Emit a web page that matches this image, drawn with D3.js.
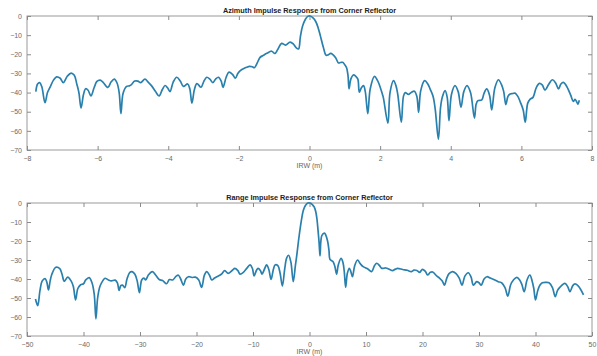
<!DOCTYPE html>
<html>
<head>
<meta charset="utf-8">
<script src="https://cdn.jsdelivr.net/npm/d3@7"></script>
<style>
  body { margin: 0; background: #fff; }
  svg text { font-family: "Liberation Sans", Arial, sans-serif; }
</style>
</head>
<body>
<svg id="chart" width="597" height="356"></svg>
<script>
// azimuth cut (m, dB)
const azX = [-7.75,-7.70,-7.64,-7.58,-7.49,-7.42,-7.35,-7.25,-7.16,-7.06,-6.97,-6.86,-6.75,-6.66,-6.59,-6.53,-6.47,-6.40,-6.34,-6.27,-6.19,-6.10,-6.02,-5.93,-5.85,-5.71,-5.62,-5.53,-5.45,-5.39,-5.34,-5.28,-5.18,-5.10,-5.05,-4.95,-4.86,-4.78,-4.66,-4.57,-4.47,-4.36,-4.26,-4.17,-4.09,-4.02,-3.95,-3.86,-3.76,-3.66,-3.57,-3.45,-3.39,-3.33,-3.26,-3.19,-3.07,-2.99,-2.91,-2.82,-2.74,-2.66,-2.58,-2.50,-2.45,-2.36,-2.28,-2.18,-2.10,-2.03,-1.96,-1.87,-1.78,-1.70,-1.62,-1.56,-1.48,-1.40,-1.30,-1.21,-1.07,-0.98,-0.90,-0.79,-0.68,-0.55,-0.45,-0.38,-0.31,-0.26,-0.20,-0.12,-0.05,0.02,0.10,0.18,0.25,0.31,0.39,0.47,0.53,0.60,0.67,0.74,0.82,0.88,0.94,1.00,1.05,1.09,1.12,1.17,1.24,1.31,1.37,1.41,1.47,1.53,1.58,1.65,1.72,1.84,1.92,1.97,2.05,2.09,2.22,2.28,2.38,2.45,2.50,2.60,2.66,2.71,2.80,2.88,2.97,3.04,3.09,3.15,3.26,3.35,3.42,3.50,3.56,3.65,3.71,3.76,3.84,3.90,3.95,4.02,4.12,4.21,4.29,4.37,4.46,4.56,4.67,4.72,4.77,4.88,4.94,5.02,5.10,5.16,5.25,5.35,5.44,5.50,5.56,5.62,5.68,5.76,5.82,5.90,5.97,6.05,6.11,6.18,6.25,6.33,6.42,6.51,6.59,6.67,6.78,6.88,6.97,7.05,7.12,7.19,7.26,7.32,7.40,7.47,7.52,7.57,7.60,7.64];
const azDb = [-39.5,-35.5,-34.8,-37,-45.3,-40,-37.3,-33.5,-31.8,-32.5,-34.8,-31.5,-29.8,-31,-35.5,-40,-48,-41,-38,-38.8,-41.7,-37.5,-34.2,-33.5,-34.5,-37.3,-34.5,-33,-35,-40,-51,-40.5,-36.8,-36.5,-36,-34,-34,-34.8,-33,-34.5,-36.5,-39.5,-41.8,-38.5,-36.3,-37.5,-39.5,-34.5,-32,-34,-36.8,-35.5,-38,-45.5,-38.5,-35.3,-37.2,-34,-32,-33,-34.8,-33,-32,-34,-37.3,-32,-29.3,-30.5,-32.5,-30,-28.5,-27.5,-26.8,-26.3,-26.5,-27,-24.5,-21.6,-20.5,-19.5,-18.4,-19.6,-17.5,-14.3,-15.2,-13.6,-14.8,-16.5,-17.2,-11,-5.5,-1.8,-0.2,0,-1,-3,-6.5,-10.5,-16.2,-20.5,-20.3,-19.5,-20.3,-21.8,-24.5,-24.3,-24.2,-25.5,-27,-31,-38,-33,-30.8,-31.5,-33,-39.8,-37.5,-36.4,-39.5,-51,-38,-31.5,-33.5,-35.5,-40,-42.5,-56,-40,-33.8,-36.5,-41,-55.5,-42,-40,-41,-40,-39.3,-42,-50.3,-39,-33.8,-35.5,-38.3,-42,-48.6,-64.3,-48,-42.5,-39,-42.5,-54.7,-41,-36.4,-39.5,-47.7,-39.5,-36.4,-40,-53.3,-46,-44.2,-43.8,-40.5,-38.1,-41.5,-49,-37.5,-33.3,-36,-39.5,-46.3,-42,-40.7,-40.5,-40.3,-42,-45,-49,-55.5,-45.5,-43.4,-42.5,-37.5,-35.2,-36,-38.7,-35.5,-33.3,-35,-38.1,-35.5,-34.7,-36,-38.1,-41.5,-44.6,-43.5,-45,-46,-44];

// range cut (m, dB)
const rgX = [-48.5,-48.1,-47.7,-47.3,-46.8,-46.5,-46.2,-45.9,-45.6,-44.9,-44.2,-43.8,-43.4,-42.8,-42.2,-41.8,-41.4,-41.0,-40.5,-40.0,-39.6,-39.0,-38.5,-38.1,-37.8,-37.5,-37.1,-36.6,-36.2,-35.6,-35.1,-34.4,-34.0,-33.7,-33.4,-33.1,-32.7,-32.3,-31.8,-31.4,-30.9,-30.5,-30.1,-29.7,-29.3,-29.0,-28.5,-27.8,-27.2,-26.6,-26.0,-25.3,-24.8,-24.2,-23.6,-23.2,-22.8,-22.3,-21.9,-21.4,-20.8,-20.2,-19.6,-19.1,-18.6,-18.2,-17.7,-17.3,-16.8,-16.4,-15.6,-15.0,-14.4,-13.7,-13.2,-12.7,-12.3,-11.7,-11.0,-10.5,-10.1,-9.8,-9.4,-9.1,-8.7,-8.4,-8.0,-7.6,-7.2,-6.8,-6.4,-6.1,-5.6,-5.2,-4.8,-4.4,-4.05,-3.7,-3.3,-2.87,-2.5,-2.27,-1.95,-1.68,-1.4,-1.1,-0.7,-0.3,0.1,0.5,0.85,1.1,1.3,1.5,1.7,1.86,2.0,2.2,2.63,2.9,3.2,3.45,3.6,3.9,4.2,4.5,4.8,5.1,5.58,5.9,6.15,6.4,6.7,7.05,7.3,7.6,8.0,8.5,9.0,9.5,10.2,11.0,11.5,11.9,12.4,12.8,13.5,14.2,14.7,15.2,15.6,16.5,17.3,18.0,18.5,19.0,19.5,20.0,20.5,20.9,21.4,21.8,22.5,23.0,23.5,23.9,24.3,24.7,25.3,25.9,26.5,27.0,27.5,28.1,28.6,29.0,29.6,30.0,30.4,30.9,31.4,32.0,32.8,33.4,34.0,34.6,35.1,35.6,36.1,36.7,37.2,37.6,38.0,38.5,39.0,39.4,39.7,40.0,40.4,40.8,41.2,41.8,42.4,43.0,43.5,43.9,44.3,45.2,45.7,46.1,46.6,47.0,47.5,48.0,48.5];
const rgDb = [-50.5,-54,-46,-41,-39.8,-41.5,-45.8,-41,-37.5,-33.8,-34.5,-37.5,-41.2,-39,-41,-44,-51,-45,-43,-42.5,-40.5,-39.3,-42,-48,-61,-50,-44,-41,-39.6,-40.5,-41,-40.6,-42,-46,-43.5,-43.2,-44.5,-40,-36.5,-36.1,-37.5,-41,-47.2,-40.5,-39.5,-40.5,-37.8,-36.1,-38,-40.3,-40.8,-42.5,-40.3,-40.5,-38.5,-38,-40,-43.2,-40,-38.8,-39.2,-39,-40.5,-44.4,-38,-36.1,-38,-40.5,-39.5,-38.8,-37.5,-35.6,-37,-35.5,-34.4,-35.5,-37.4,-36.5,-34,-32.6,-34.5,-38.4,-35.5,-34.4,-35.5,-37.4,-35,-32.6,-35,-40.2,-35,-32.6,-33,-37,-43.7,-35,-29,-27.5,-31,-41.4,-33,-28,-20,-14,-8.5,-4,-1.2,0,0,-0.8,-2.2,-4.5,-8,-14,-21,-27.9,-20.5,-17,-15.9,-17,-20,-25,-29.5,-30.3,-31,-33.5,-37.4,-32.5,-29.1,-31,-36,-44.4,-37,-34.4,-36,-38.8,-33,-30,-32,-33.5,-34.5,-36.1,-33,-31.7,-33,-34.4,-34.2,-35,-35.6,-34.8,-34.4,-35,-35.4,-36.1,-35.3,-35.5,-36.5,-34.9,-36,-37.9,-36.5,-36.3,-38.4,-39.5,-41,-43.2,-39.5,-37.2,-36.1,-37,-39.5,-43.2,-38.5,-36.7,-39,-43.2,-41.4,-42,-43.2,-40,-38.8,-39.5,-40.5,-41.4,-42,-44.5,-49,-43,-40.5,-39.1,-40.5,-43,-46.7,-40.5,-37.9,-41,-45,-51,-46,-43.2,-42,-41.8,-42,-44.5,-49.3,-46,-44.4,-42.3,-44,-46.7,-43.5,-42.6,-43.5,-45.5,-48.4];

const yTicks = [0, -10, -20, -30, -40, -50, -60, -70];
const azTicks = [-8, -6, -4, -2, 0, 2, 4, 6, 8];
const rgTicks = [-50, -40, -30, -20, -10, 0, 10, 20, 30, 40, 50];

const svg = d3.select("#chart");
const left = 27, right = 592;

function panel(cfg) {
  const x = d3.scaleLinear().domain(cfg.xDomain).range([left, right]);
  const y = d3.scaleLinear().domain([-70, 0]).range([cfg.bottom, cfg.top]);
  const g = svg.append("g");

  g.append("rect")
    .attr("x", left).attr("y", cfg.top)
    .attr("width", right - left).attr("height", cfg.bottom - cfg.top)
    .attr("fill", "none").attr("stroke", "#9a9a9a").attr("stroke-width", 1);

  const styleAxis = (sel, labels) => {
    sel.select(".domain").remove();
    sel.selectAll(".tick line").attr("stroke", "#8a8a8a");
    sel.selectAll(".tick text")
      .attr("fill", labels ? "#6a6a6a" : "none")
      .style("font-size", "7px");
  };

  g.append("g").attr("transform", `translate(0,${cfg.bottom})`)
    .call(d3.axisBottom(x).tickValues(cfg.xTicks).tickSize(-4).tickPadding(6))
    .call(s => styleAxis(s, true));
  g.append("g").attr("transform", `translate(0,${cfg.top})`)
    .call(d3.axisTop(x).tickValues(cfg.xTicks).tickSize(-4).tickFormat(""))
    .call(s => styleAxis(s, false));
  g.append("g").attr("transform", `translate(${left},0)`)
    .call(d3.axisLeft(y).tickValues(yTicks).tickSize(-4).tickPadding(5))
    .call(s => styleAxis(s, true));
  g.append("g").attr("transform", `translate(${right},0)`)
    .call(d3.axisRight(y).tickValues(yTicks).tickSize(-4).tickFormat(""))
    .call(s => styleAxis(s, false));

  const line = d3.line()
    .x((d, i) => x(cfg.xs[i]))
    .y(d => y(d))
    .curve(d3.curveCatmullRom.alpha(0.5));

  g.append("path")
    .datum(cfg.ys)
    .attr("d", line)
    .attr("fill", "none")
    .attr("stroke", "#2a80ad")
    .attr("stroke-width", 1.7)
    .attr("stroke-linejoin", "round");

  g.append("text")
    .attr("x", (left + right) / 2).attr("y", cfg.top - 3.5)
    .attr("text-anchor", "middle")
    .style("font-size", "7.3px").style("font-weight", "bold")
    .attr("fill", "#222")
    .text(cfg.title);

  g.append("text")
    .attr("x", (left + right) / 2).attr("y", cfg.bottom + 17.5)
    .attr("text-anchor", "middle")
    .style("font-size", "7px")
    .attr("fill", "#666")
    .text("IRW (m)");
}

panel({
  xDomain: [-8, 8], xTicks: azTicks, top: 16, bottom: 150,
  xs: azX, ys: azDb, title: "Azimuth Impulse Response from Corner Reflector"
});
panel({
  xDomain: [-50, 50], xTicks: rgTicks, top: 203, bottom: 336,
  xs: rgX, ys: rgDb, title: "Range Impulse Response from Corner Reflector"
});
</script>
</body>
</html>
